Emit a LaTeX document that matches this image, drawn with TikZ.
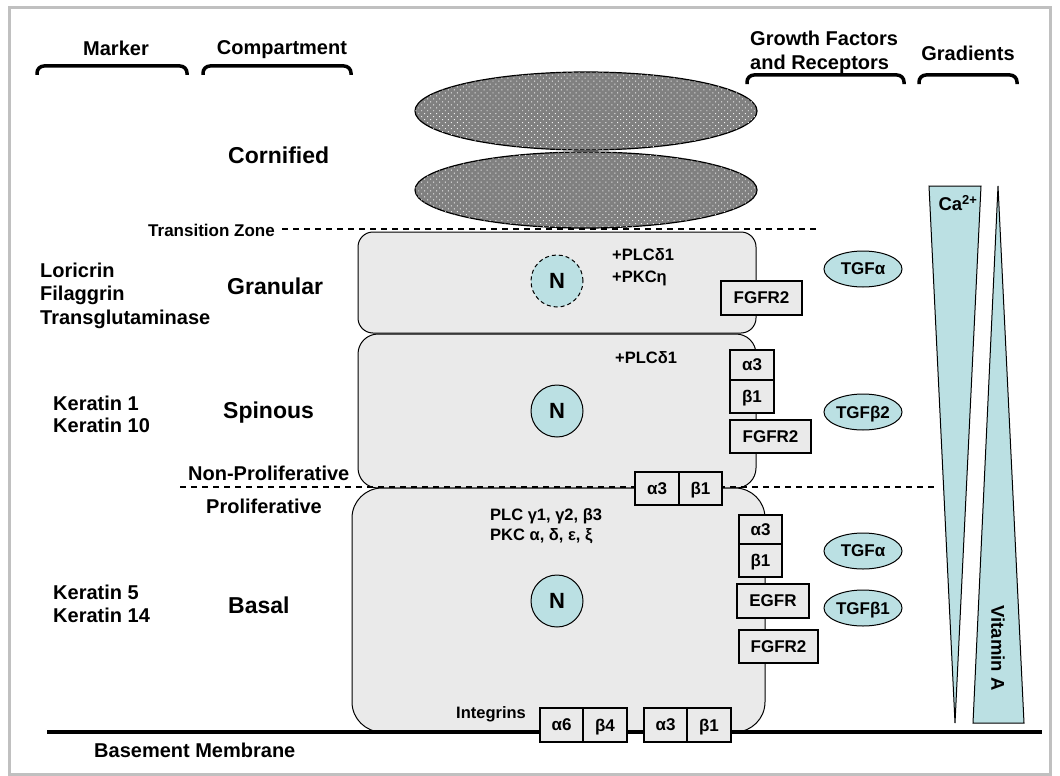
\documentclass[tikz,border=0pt]{standalone}
\usepackage{fontspec}
\setmainfont{Liberation Sans}
\usetikzlibrary{shapes.geometric,patterns.meta}
\definecolor{cellgray}{RGB}{234,234,234}
\definecolor{nuc}{RGB}{187,224,227}
\definecolor{framegray}{RGB}{192,192,192}
\definecolor{corn}{RGB}{128,128,128}
\begin{document}
\begin{tikzpicture}[x=1pt,y=-1pt,
  lab/.style={inner sep=0pt, text depth=0pt, font=\fontsize{20}{24}\selectfont\bfseries},
  big/.style={inner sep=0pt, text depth=0pt, font=\fontsize{23}{27}\selectfont\bfseries},
  tz/.style={inner sep=0pt, text depth=0pt, font=\fontsize{17}{20}\selectfont\bfseries},
  sml/.style={inner sep=0pt, text depth=0pt, font=\fontsize{16.5}{20}\selectfont\bfseries},
  grad/.style={inner sep=0pt, text depth=0pt, font=\fontsize{18.5}{22}\selectfont\bfseries},
  rbox/.style={draw, line width=2pt, fill=cellgray, inner sep=0pt, text depth=0pt, font=\fontsize{17}{20}\selectfont\bfseries},
  nucleus/.style={circle, draw, line width=1pt, fill=nuc, minimum size=52pt, inner sep=0pt, text depth=0pt, font=\fontsize{22}{24}\selectfont\bfseries},
  tgf/.style={ellipse, draw, line width=1pt, fill=nuc, minimum width=78pt, minimum height=36pt, inner sep=0pt, text depth=0pt, font=\fontsize{17}{20}\selectfont\bfseries},
  brace/.style={line width=3.5pt, rounded corners=7pt},
  cell/.style={draw, line width=1pt, fill=cellgray},
  zone/.style={line width=2pt, dash pattern=on 6pt off 5pt},
  corneo/.style={draw, line width=1.2pt, fill=corn, postaction={pattern={Dots[distance=4.2pt, radius=0.7pt, angle=45]}, pattern color=white!88!corn}},
  tri/.style={draw, line width=1pt, fill=nuc, line join=miter},
]
\useasboundingbox (0,0) rectangle (1060,776);
% frame
\draw[framegray, line width=3pt] (9.5,7.5) rectangle (1050.5,774.5);

% headers
\node[lab] (hmark) at (116,48) {Marker};
\node[lab] (hcomp) at (282,48) {Compartment};
\node[lab, anchor=west] (hgf1) at (750,38) {Growth Factors};
\node[lab, anchor=west] (hgf2) at (750,62) {and Receptors};
\node[lab] (hgrad) at (968,53) {Gradients};
\draw[brace] (37,75) -- (37,66) -- (187,66) -- (187,75);
\draw[brace] (203,75) -- (203,66) -- (351,66) -- (351,75);
\draw[brace] (747,84) -- (747,75) -- (904,75) -- (904,84);
\draw[brace] (919,84) -- (919,75) -- (1017,75) -- (1017,84);

% cornified layer
\path[corneo] (586,111) ellipse [x radius=171, y radius=39];
\path[corneo] (586,190) ellipse [x radius=171, y radius=38];

% cells
\draw[cell, rounded corners=15pt] (358,232) rectangle (756,333);
\draw[cell, rounded corners=20pt] (358,334) rectangle (756,488);
\draw[cell, rounded corners=30pt] (352,488) rectangle (765,732);

% zone lines
\draw[zone] (282,229) -- (820,229);
\draw[zone] (180,487) -- (935,487);

% basement membrane
\draw[line width=3.5pt] (47,732) -- (1042,732);

% nuclei
\node[nucleus, dash pattern=on 4pt off 3pt] (ng) at (557,281) {N};
\node[nucleus] (ns) at (557,411) {N};
\node[nucleus] (nb) at (557,601) {N};

% receptor boxes
\node[rbox, minimum width=81pt, minimum height=34pt] (gfgfr) at (761.5,298) {FGFR2};
\node[rbox, minimum width=44pt, minimum height=30pt] (sa3) at (752,365) {α3};
\node[rbox, minimum width=44pt, minimum height=33pt] (sb1) at (752,396.5) {β1};
\node[rbox, minimum width=81pt, minimum height=33pt] (sfgfr) at (770.5,436.5) {FGFR2};
\node[rbox, minimum width=44pt, minimum height=33pt] (ha3) at (657,488.5) {α3};
\node[rbox, minimum width=43pt, minimum height=33pt] (hb1) at (700.5,488.5) {β1};
\node[rbox, minimum width=43pt, minimum height=29pt] (ba3) at (760.5,529.5) {α3};
\node[rbox, minimum width=43pt, minimum height=33pt] (bb1) at (760.5,560.5) {β1};
\node[rbox, minimum width=72pt, minimum height=34pt] (begfr) at (773,601) {EGFR};
\node[rbox, minimum width=79pt, minimum height=33pt] (bfgfr) at (778.5,646.5) {FGFR2};
\node[rbox, minimum width=43pt, minimum height=34pt] (ia6) at (561.5,725) {α6};
\node[rbox, minimum width=44pt, minimum height=34pt] (ib4) at (605,725) {β4};
\node[rbox, minimum width=43pt, minimum height=34pt] (ia3) at (665.5,725) {α3};
\node[rbox, minimum width=44pt, minimum height=34pt] (ib1) at (709,725) {β1};

% growth factors
\node[tgf] (tgfa1) at (863,269) {TGFα};
\node[tgf] (tgfb2) at (863,412) {TGFβ2};
\node[tgf] (tgfa2) at (863,551) {TGFα};
\node[tgf] (tgfb1) at (863,608) {TGFβ1};

% gradients
\path[tri] (929,186) -- (981,186) -- (955,723) -- cycle;
\path[tri] (998,186) -- (1024,723) -- (973,723) -- cycle;
\node[grad] (ca) at (958,203) {Ca\textsuperscript{2+}};
\node[grad, rotate=-90] (vita) at (998,648) {Vitamin A};

% markers
\node[lab, anchor=west] (m1) at (40,270) {Loricrin};
\node[lab, anchor=west] (m2) at (40,293) {Filaggrin};
\node[lab, anchor=west] (m3) at (40,317) {Transglutaminase};
\node[lab, anchor=west] (m4) at (53,403) {Keratin 1};
\node[lab, anchor=west] (m5) at (53,425) {Keratin 10};
\node[lab, anchor=west] (m6) at (53,592) {Keratin 5};
\node[lab, anchor=west] (m7) at (53,615) {Keratin 14};

% compartments
\node[big, anchor=west] (c1) at (228,155) {Cornified};
\node[big, anchor=west] (c2) at (227,286) {Granular};
\node[big, anchor=west] (c3) at (223,410) {Spinous};
\node[big, anchor=west] (c4) at (228,605) {Basal};
\node[tz, anchor=west] (tzl) at (148,230) {Transition Zone};
\node[lab, anchor=west] (npl) at (188,473) {Non-Proliferative};
\node[lab, anchor=west] (pl) at (206,506) {Proliferative};

% signalling labels
\node[sml, anchor=west] (g1) at (612,255) {+PLCδ1};
\node[sml, anchor=west] (g2) at (612,277) {+PKCη};
\node[sml, anchor=west] (s1) at (615,358) {+PLCδ1};
\node[sml, anchor=west] (b1) at (490,515) {PLC γ1, γ2, β3};
\node[sml, anchor=west] (b2) at (490,535) {PKC α, δ, ε, ξ};
\node[sml] (intg) at (491,713) {Integrins};
\node[lab, anchor=west] (bm) at (94,750) {Basement Membrane};
\end{tikzpicture}
\end{document}
